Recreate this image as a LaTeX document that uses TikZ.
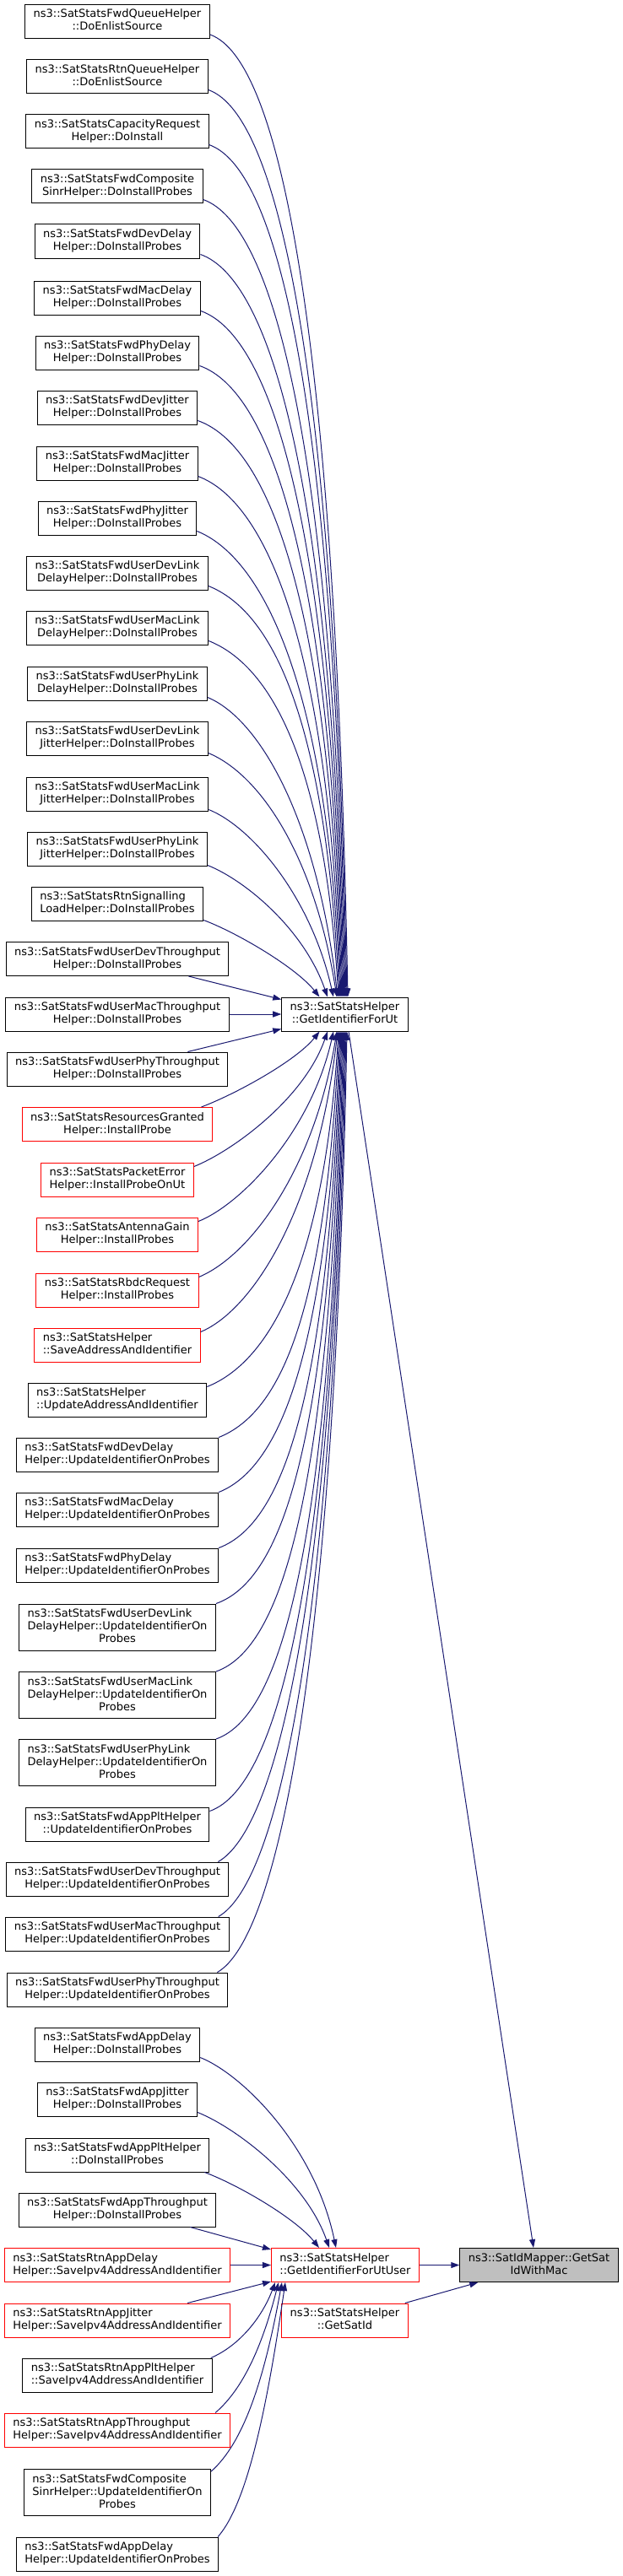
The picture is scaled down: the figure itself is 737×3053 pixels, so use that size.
\documentclass[tikz,border=0pt]{standalone}
\usepackage{fontspec}
\setmainfont{DejaVu Sans}
\usetikzlibrary{arrows.meta,positioning}
\definecolor{edgeblue}{HTML}{191970}
\definecolor{rootgray}{HTML}{BFBFBF}
\newcommand{\lblii}[2]{\begin{tabular}{@{}l@{}}#1\\\multicolumn{1}{@{}c@{}}{#2}\end{tabular}}
\newcommand{\lbliii}[3]{\begin{tabular}{@{}l@{}}#1\\#2\\\multicolumn{1}{@{}c@{}}{#3}\end{tabular}}

\begin{document}
\begin{tikzpicture}[x=1pt, y=1pt, blk/.style={draw=black, fill=white, line width=1pt, inner xsep=10pt, inner ysep=5pt, font=\fontsize{13}{15}\selectfont}, rd/.style={blk, draw=red}, gry/.style={blk, fill=rootgray}, cal/.style={draw=edgeblue, line width=1pt, -{Triangle[length=10pt,width=7pt]}}]

\useasboundingbox (0,0) rectangle (737,-3053);

\node[blk] (n1) at (139,-25.5) {\lblii{ns3::SatStatsFwdQueueHelper}{::DoEnlistSource}};
\node[blk] (n2) at (139,-91) {\lblii{ns3::SatStatsRtnQueueHelper}{::DoEnlistSource}};
\node[blk] (n3) at (139,-156) {\lblii{ns3::SatStatsCapacityRequest}{Helper::DoInstall}};
\node[blk] (n4) at (139,-221) {\lblii{ns3::SatStatsFwdComposite}{SinrHelper::DoInstallProbes}};
\node[blk] (n5) at (139,-286) {\lblii{ns3::SatStatsFwdDevDelay}{Helper::DoInstallProbes}};
\node[blk] (n6) at (139,-353) {\lblii{ns3::SatStatsFwdMacDelay}{Helper::DoInstallProbes}};
\node[blk] (n7) at (139,-418) {\lblii{ns3::SatStatsFwdPhyDelay}{Helper::DoInstallProbes}};
\node[blk] (n8) at (139,-483) {\lblii{ns3::SatStatsFwdDevJitter}{Helper::DoInstallProbes}};
\node[blk] (n9) at (139,-549) {\lblii{ns3::SatStatsFwdMacJitter}{Helper::DoInstallProbes}};
\node[blk] (n10) at (139,-614) {\lblii{ns3::SatStatsFwdPhyJitter}{Helper::DoInstallProbes}};
\node[blk] (n11) at (139,-679) {\lblii{ns3::SatStatsFwdUserDevLink}{DelayHelper::DoInstallProbes}};
\node[blk] (n12) at (139,-744) {\lblii{ns3::SatStatsFwdUserMacLink}{DelayHelper::DoInstallProbes}};
\node[blk] (n13) at (139,-810) {\lblii{ns3::SatStatsFwdUserPhyLink}{DelayHelper::DoInstallProbes}};
\node[blk] (n14) at (139,-875) {\lblii{ns3::SatStatsFwdUserDevLink}{JitterHelper::DoInstallProbes}};
\node[blk] (n15) at (139,-941) {\lblii{ns3::SatStatsFwdUserMacLink}{JitterHelper::DoInstallProbes}};
\node[blk] (n16) at (139,-1006) {\lblii{ns3::SatStatsFwdUserPhyLink}{JitterHelper::DoInstallProbes}};
\node[blk] (n17) at (139,-1071) {\lblii{ns3::SatStatsRtnSignalling}{LoadHelper::DoInstallProbes}};
\node[blk] (n18) at (139,-1136.5) {\lblii{ns3::SatStatsFwdUserDevThroughput}{Helper::DoInstallProbes}};
\node[blk] (n19) at (139,-1202) {\lblii{ns3::SatStatsFwdUserMacThroughput}{Helper::DoInstallProbes}};
\node[blk] (n20) at (139,-1267) {\lblii{ns3::SatStatsFwdUserPhyThroughput}{Helper::DoInstallProbes}};
\node[rd] (n21) at (139,-1332.5) {\lblii{ns3::SatStatsResourcesGranted}{Helper::InstallProbe}};
\node[rd] (n22) at (139,-1398) {\lblii{ns3::SatStatsPacketError}{Helper::InstallProbeOnUt}};
\node[rd] (n23) at (139,-1463) {\lblii{ns3::SatStatsAntennaGain}{Helper::InstallProbes}};
\node[rd] (n24) at (139,-1529) {\lblii{ns3::SatStatsRbdcRequest}{Helper::InstallProbes}};
\node[rd] (n25) at (139,-1594) {\lblii{ns3::SatStatsHelper}{::SaveAddressAndIdentifier}};
\node[blk] (n26) at (139,-1659) {\lblii{ns3::SatStatsHelper}{::UpdateAddressAndIdentifier}};
\node[blk] (n27) at (139,-1724) {\lblii{ns3::SatStatsFwdDevDelay}{Helper::UpdateIdentifierOnProbes}};
\node[blk] (n28) at (139,-1789) {\lblii{ns3::SatStatsFwdMacDelay}{Helper::UpdateIdentifierOnProbes}};
\node[blk] (n29) at (139,-1855) {\lblii{ns3::SatStatsFwdPhyDelay}{Helper::UpdateIdentifierOnProbes}};
\node[blk] (n30) at (139,-1928.5) {\lbliii{ns3::SatStatsFwdUserDevLink}{DelayHelper::UpdateIdentifierOn}{Probes}};
\node[blk] (n31) at (139,-2009) {\lbliii{ns3::SatStatsFwdUserMacLink}{DelayHelper::UpdateIdentifierOn}{Probes}};
\node[blk] (n32) at (139,-2089) {\lbliii{ns3::SatStatsFwdUserPhyLink}{DelayHelper::UpdateIdentifierOn}{Probes}};
\node[blk] (n33) at (139,-2162) {\lblii{ns3::SatStatsFwdAppPltHelper}{::UpdateIdentifierOnProbes}};
\node[blk] (n34) at (139,-2227) {\lblii{ns3::SatStatsFwdUserDevThroughput}{Helper::UpdateIdentifierOnProbes}};
\node[blk] (n35) at (139,-2292) {\lblii{ns3::SatStatsFwdUserMacThroughput}{Helper::UpdateIdentifierOnProbes}};
\node[blk] (n36) at (139,-2358) {\lblii{ns3::SatStatsFwdUserPhyThroughput}{Helper::UpdateIdentifierOnProbes}};
\node[blk] (n37) at (139,-2423) {\lblii{ns3::SatStatsFwdAppDelay}{Helper::DoInstallProbes}};
\node[blk] (n38) at (139,-2488) {\lblii{ns3::SatStatsFwdAppJitter}{Helper::DoInstallProbes}};
\node[blk] (n39) at (139,-2554) {\lblii{ns3::SatStatsFwdAppPltHelper}{::DoInstallProbes}};
\node[blk] (n40) at (139,-2619) {\lblii{ns3::SatStatsFwdAppThroughput}{Helper::DoInstallProbes}};
\node[rd] (n41) at (139,-2684.5) {\lblii{ns3::SatStatsRtnAppDelay}{Helper::SaveIpv4AddressAndIdentifier}};
\node[rd] (n42) at (139,-2750) {\lblii{ns3::SatStatsRtnAppJitter}{Helper::SaveIpv4AddressAndIdentifier}};
\node[blk] (n43) at (139,-2815) {\lblii{ns3::SatStatsRtnAppPltHelper}{::SaveIpv4AddressAndIdentifier}};
\node[rd] (n44) at (139,-2880) {\lblii{ns3::SatStatsRtnAppThroughput}{Helper::SaveIpv4AddressAndIdentifier}};
\node[blk] (n45) at (139,-2954) {\lbliii{ns3::SatStatsFwdComposite}{SinrHelper::UpdateIdentifierOn}{Probes}};
\node[blk] (n46) at (139,-3027) {\lblii{ns3::SatStatsFwdAppDelay}{Helper::UpdateIdentifierOnProbes}};

\node[blk] (ut) at (408.5,-1202) {\lblii{ns3::SatStatsHelper}{::GetIdentifierForUt}};
\node[rd] (uu) at (409,-2684.5) {\lblii{ns3::SatStatsHelper}{::GetIdentifierForUtUser}};
\node[gry] (mac) at (638.5,-2684.5) {\lblii{ns3::SatIdMapper::GetSat}{IdWithMac}};
\node[rd] (gs) at (408.5,-2750) {\lblii{ns3::SatStatsHelper}{::GetSatId}};

\draw[cal] ([yshift=5pt]n1.south east) .. controls +(85,-30) and +(-15,777) .. ([xshift=3.5pt]ut.north);
\draw[cal] ([yshift=5pt]n2.south east) .. controls +(85,-30) and +(-15,732) .. ([xshift=2.5pt]ut.north);
\draw[cal] ([yshift=5pt]n3.south east) .. controls +(85,-30) and +(-15,688) .. ([xshift=1.5pt]ut.north);
\draw[cal] ([yshift=5pt]n4.south east) .. controls +(85,-30) and +(-15,644) .. ([xshift=0.5pt]ut.north);
\draw[cal] ([yshift=5pt]n5.south east) .. controls +(85,-30) and +(-15,600) .. ([xshift=-0.5pt]ut.north);
\draw[cal] ([yshift=5pt]n6.south east) .. controls +(85,-30) and +(-15,554) .. ([xshift=-1.5pt]ut.north);
\draw[cal] ([yshift=5pt]n7.south east) .. controls +(85,-30) and +(-15,510) .. ([xshift=-2.5pt]ut.north);
\draw[cal] ([yshift=5pt]n8.south east) .. controls +(85,-30) and +(-15,466) .. ([xshift=-3.5pt]ut.north);
\draw[cal] ([yshift=5pt]n9.south east) .. controls +(80,-30) and +(-15,421) .. ([xshift=-4.5pt]ut.north);
\draw[cal] ([yshift=5pt]n10.south east) .. controls +(75,-30) and +(-15,377) .. ([xshift=-5.5pt]ut.north);
\draw[cal] ([yshift=5pt]n11.south east) .. controls +(75,-30) and +(-17,333) .. ([xshift=-6.5pt]ut.north);
\draw[cal] ([yshift=5pt]n12.south east) .. controls +(70,-28) and +(-18,288) .. ([xshift=-7.5pt]ut.north);
\draw[cal] ([yshift=4pt]n13.south east) .. controls +(60,-25) and +(-25,215) .. ([xshift=-8.5pt]ut.north);
\draw[cal] ([yshift=3pt]n14.south east) .. controls +(60,-25) and +(-27,170) .. ([xshift=-9.5pt]ut.north);
\draw[cal] ([yshift=2pt]n15.south east) .. controls +(50,-20) and +(-27,120) .. ([xshift=-13.5pt]ut.north);
\draw[cal] ([yshift=1pt]n16.south east) .. controls +(45,-18) and +(-28,80) .. ([xshift=-20.5pt]ut.north);
\draw[cal] ([yshift=1pt]n17.south east) .. controls +(40,-15) and +(-28,35) .. ([xshift=-30pt]ut.north);
\draw[cal] ([xshift=-48pt]n18.south east) -- ([yshift=-3pt]ut.north west);
\draw[cal] (n19.east) -- (ut.west);
\draw[cal] ([xshift=-48pt]n20.north east) -- ([yshift=3pt]ut.south west);
\draw[cal] ([xshift=-14pt]n21.north east) .. controls +(40,15) and +(-28,-35) .. ([xshift=-30pt]ut.south);
\draw[cal] ([yshift=-5pt]n22.north east) .. controls +(45,18) and +(-28,-80) .. ([xshift=-20.5pt]ut.south);
\draw[cal] ([yshift=-5pt]n23.north east) .. controls +(50,20) and +(-27,-120) .. ([xshift=-13.5pt]ut.south);
\draw[cal] ([yshift=-5pt]n24.north east) .. controls +(60,25) and +(-27,-165) .. ([xshift=-9.5pt]ut.south);
\draw[cal] ([yshift=-5pt]n25.north east) .. controls +(60,25) and +(-25,-215) .. ([xshift=-8.5pt]ut.south);
\draw[cal] ([yshift=-5pt]n26.north east) .. controls +(70,28) and +(-18,-287) .. ([xshift=-7.5pt]ut.south);
\draw[cal] (n27.north east) .. controls +(75,30) and +(-17,-331) .. ([xshift=-6.5pt]ut.south);
\draw[cal] (n28.north east) .. controls +(75,30) and +(-15,-375) .. ([xshift=-5.5pt]ut.south);
\draw[cal] (n29.north east) .. controls +(80,30) and +(-15,-420) .. ([xshift=-4.5pt]ut.south);
\draw[cal] (n30.north east) .. controls +(85,30) and +(-15,-465) .. ([xshift=-3.5pt]ut.south);
\draw[cal] (n31.north east) .. controls +(85,30) and +(-15,-520) .. ([xshift=-2.5pt]ut.south);
\draw[cal] (n32.north east) .. controls +(85,30) and +(-15,-575) .. ([xshift=-1.5pt]ut.south);
\draw[cal] ([yshift=-5pt]n33.north east) .. controls +(85,30) and +(-15,-629) .. ([xshift=-0.5pt]ut.south);
\draw[cal] ([xshift=-13pt]n34.north east) .. controls +(70,40) and +(-15,-673) .. ([xshift=0.5pt]ut.south);
\draw[cal] ([xshift=-13pt]n35.north east) .. controls +(70,40) and +(-15,-717) .. ([xshift=1.5pt]ut.south);
\draw[cal] ([xshift=-13pt]n36.north east) .. controls +(70,40) and +(-15,-762) .. ([xshift=2.5pt]ut.south);

\draw[cal] ([yshift=5pt]n37.south east) .. controls +(50,-20) and +(-25,120) .. ([xshift=-11pt]uu.north);
\draw[cal] ([yshift=5pt]n38.south east) .. controls +(45,-18) and +(-28,80) .. ([xshift=-19pt]uu.north);
\draw[cal] ([xshift=-6pt]n39.south east) .. controls +(40,-15) and +(-28,35) .. ([xshift=-31pt]uu.north);
\draw[cal] ([xshift=-31pt]n40.south east) -- ([yshift=-2pt]uu.north west);
\draw[cal] (n41.east) -- (uu.west);
\draw[cal] ([xshift=-51pt]n42.north east) -- ([yshift=1pt]uu.south west);
\draw[cal] ([xshift=-2pt]n43.north east) .. controls +(35,15) and +(-15,-40) .. ([xshift=5pt]uu.south west);
\draw[cal] ([xshift=-18pt]n44.north east) .. controls +(35,30) and +(-18,-70) .. ([xshift=9pt]uu.south west);
\draw[cal] ([yshift=-3pt]n45.north east) .. controls +(40,35) and +(-20,-110) .. ([xshift=13pt]uu.south west);
\draw[cal] ([xshift=-1pt]n46.north east) .. controls +(35,40) and +(-22,-150) .. ([xshift=17pt]uu.south west);

\draw[cal] (uu.east) -- (mac.west);
\draw[cal] ([xshift=4.5pt]ut.south) -- ([xshift=-6.5pt]mac.north);
\draw[cal] ([xshift=-4pt]gs.north east) -- ([xshift=22pt]mac.south west);
\end{tikzpicture}
\end{document}
